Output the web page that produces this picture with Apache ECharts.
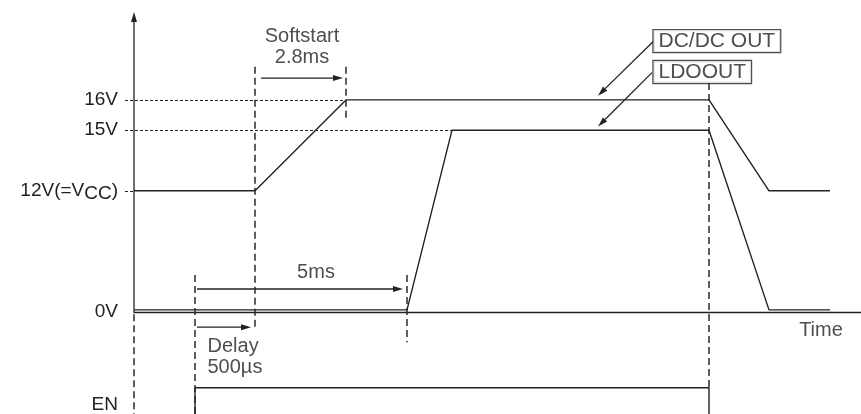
<!DOCTYPE html>
<html>
<head>
<meta charset="utf-8">
<title>DC/DC OUT / LDOOUT start-up timing</title>
<script src="https://cdn.jsdelivr.net/npm/echarts@6/dist/echarts.min.js"></script>
<style>
  html, body { margin: 0; padding: 0; background: #fff; }
  #chart { width: 861px; height: 414px; }
</style>
</head>
<body>
<div id="chart"></div>
<script>
//---------------------------Data---------------------------
// diagram is not to scale: time and level are in drawing units
// level 0 = 0V, 4 = 12V(=VCC), 6 = 15V, 7 = 16V, EN drawn below
let dcdcOut = [[0, 4], [12.1, 4], [21.2, 7], [57.5, 7], [63.5, 4], [69.6, 4]];
let ldoOut = [[0, 0.07], [27.3, 0.07], [31.8, 6], [57.5, 6], [63.5, 0.07], [69.6, 0.07]];
let enSignal = [[6.1, -3.6], [6.1, -2.5], [57.5, -2.5], [57.5, -3.6]];

//level tick labels
let levelValues = [-3.05, 0, 4, 6, 7];
let levelLabels = ['EN', '0V', '12V(=V{cc|CC})', '15V', '16V'];

//dashed time markers: [time, from level, to level]
let timeMarkers = [[0, -0.07, -3.6], [6.1, 1.22, -3.6], [12.1, 8.09, -0.6],
                   [21.2, 8.09, 6.34], [27.3, 1.22, -1.0], [57.5, 7.56, -2.5]];
//dotted level guides: [level, from time, to time]
let levelGuides = [[7, -0.9, 21.2], [6, -0.9, 31.8], [4, -0.9, 0]];

//arrows: [x1, y1, x2, y2]
let arrows = [[0, 0, 0, 9.9], [12.7, 7.72, 20.9, 7.72], [6.3, 0.76, 26.9, 0.76],
              [6.3, -0.5, 11.7, -0.5], [51.9, 8.92, 46.4, 7.14], [51.8, 7.9, 46.4, 6.12]];

//annotations
let noteTexts = ['Softstart\n2.8ms', '5ms', 'Time'];
let notePos = [[16.8, 8.76], [18.2, 1.29], [68.7, -0.61]];
let delayText = 'Delay\n500µs';
let delayPos = [7.3, -1.49];
let signalNames = ['DC/DC OUT', 'LDOOUT'];
let signalNamePos = [[51.9, 8.94], [51.9, 7.92]];

//---------------------------UI---------------------------
let chart = echarts.init(document.getElementById('chart'));
let font = 'Liberation Sans, Arial, Helvetica, sans-serif';
let ink = '#222';

function renderArrow(params, api) {
    let p1 = api.coord([api.value(0), api.value(1)]);
    let p2 = api.coord([api.value(2), api.value(3)]);
    let dx = p2[0] - p1[0];
    let dy = p2[1] - p1[1];
    let len = Math.sqrt(dx * dx + dy * dy);
    let ux = dx / len, uy = dy / len;
    let headLen = 10, headW = 3;
    let bx = p2[0] - ux * headLen;
    let by = p2[1] - uy * headLen;
    return {
        type: 'group',
        children: [
            {type: 'line', shape: {x1: p1[0], y1: p1[1], x2: bx, y2: by},
             style: {stroke: ink, lineWidth: 1.3}},
            {type: 'polygon',
             shape: {points: [[p2[0], p2[1]], [bx - uy * headW, by + ux * headW], [bx + uy * headW, by - ux * headW]]},
             style: {fill: ink}}
        ]
    };
}

let noteData = [];
for (let i = 0; i < noteTexts.length; i++) {
    noteData.push({value: notePos[i], label: {formatter: noteTexts[i]}});
}
noteData.push({value: delayPos, label: {formatter: delayText, position: 'right', distance: 0, align: 'left'}});

let nameData = [];
for (let i = 0; i < signalNames.length; i++) {
    nameData.push({value: signalNamePos[i], label: {formatter: signalNames[i]}});
}

let option = {
    animation: false,
    backgroundColor: '#fff',
    grid: {left: 134, right: 0, top: 9, bottom: 2},
    xAxis: {
        type: 'value', min: 0, max: 72.7,
        axisLine: {onZero: true, lineStyle: {color: ink, width: 1.3}},
        axisTick: {show: false},
        axisLabel: {show: false},
        splitLine: {show: false}
    },
    yAxis: {
        type: 'value', min: -3.3, max: 10,
        axisLine: {show: false},
        axisTick: {show: false},
        splitLine: {show: false},
        axisLabel: {
            customValues: levelValues,
            formatter: function (v) {
                let idx = levelValues.indexOf(v);
                return idx < 0 ? '' : levelLabels[idx];
            },
            margin: 16, fontSize: 19, color: ink, fontFamily: font,
            rich: {cc: {fontSize: 19, color: ink, fontFamily: font, padding: [5, 0, 0, 0]}}
        }
    },
    series: [
        {
            type: 'lines', coordinateSystem: 'cartesian2d', silent: true, clip: false,
            lineStyle: {color: '#2a2a2a', width: 1.5, type: [7, 4], opacity: 1},
            data: timeMarkers.map(function (m) { return {coords: [[m[0], m[1]], [m[0], m[2]]]}; })
        },
        {
            type: 'lines', coordinateSystem: 'cartesian2d', silent: true, clip: false,
            lineStyle: {color: '#222', width: 1.1, type: [3, 2], opacity: 1},
            data: levelGuides.map(function (g) { return {coords: [[g[1], g[0]], [g[2], g[0]]]}; })
        },
        {
            name: 'DC/DC OUT', type: 'line', data: dcdcOut, symbol: 'none', silent: true,
            lineStyle: {color: ink, width: 1.4}
        },
        {
            name: 'LDOOUT', type: 'line', data: ldoOut, symbol: 'none', silent: true,
            lineStyle: {color: ink, width: 1.4}
        },
        {
            name: 'EN', type: 'line', data: enSignal, symbol: 'none', silent: true, clip: false,
            lineStyle: {color: ink, width: 1.4}
        },
        {
            type: 'custom', renderItem: renderArrow, data: arrows, silent: true, clip: false
        },
        {
            type: 'scatter', data: noteData, symbolSize: 1, silent: true,
            itemStyle: {color: 'rgba(0,0,0,0)'},
            label: {show: true, position: 'inside', align: 'center', verticalAlign: 'middle',
                    fontSize: 20, lineHeight: 21, color: ink, fontFamily: font}
        },
        {
            type: 'scatter', data: nameData, symbolSize: 1, silent: true,
            itemStyle: {color: 'rgba(0,0,0,0)'},
            label: {show: true, position: 'right', distance: 0, align: 'left', verticalAlign: 'middle',
                    fontSize: 21, lineHeight: 20, padding: [1, 5, 1, 5], color: ink, fontFamily: font,
                    borderColor: ink, borderWidth: 1.2, backgroundColor: '#fff'}
        }
    ]
};
chart.setOption(option);
</script>
</body>
</html>
